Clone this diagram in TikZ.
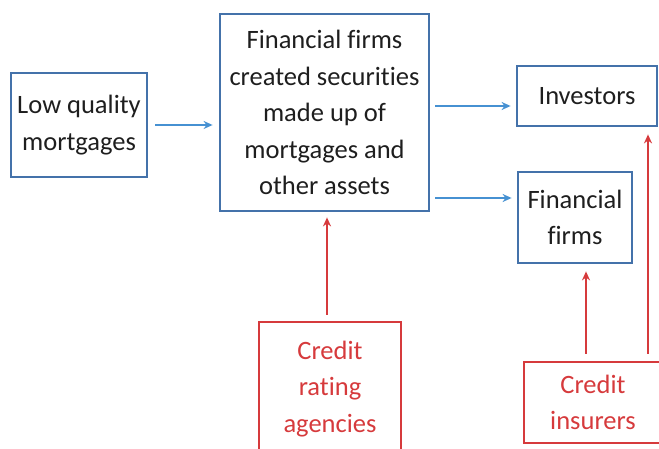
\documentclass[tikz,border=0pt]{standalone}
\usepackage{fontspec}
\setmainfont{Carlito}[RawFeature=-liga]
\usetikzlibrary{arrows.meta}
\definecolor{boxblue}{RGB}{68,114,170}
\definecolor{arrowblue}{RGB}{70,145,210}
\definecolor{crred}{RGB}{214,58,60}
\definecolor{txtgray}{RGB}{30,30,30}
\begin{document}
\begin{tikzpicture}[x=1pt,y=1pt,
	bluebox/.style={draw=boxblue,line width=2.8pt,text=txtgray,align=center,inner sep=0pt,
		font=\fontsize{26.5}{36.5}\selectfont},
	redbox/.style={bluebox,draw=crred,text=crred},
	bluearrow/.style={draw=arrowblue,line width=1.8pt,-{Stealth[length=9pt,width=8pt]}},
	redarrow/.style={bluearrow,draw=crred}]
	\useasboundingbox (0,0) rectangle (659,448);
	\node[bluebox,minimum width=136pt,minimum height=104pt] (low) at (79,323) {Low quality\\mortgages};
	\node[bluebox,minimum width=209pt,minimum height=197pt] (main) at (324.5,335.5)
		{Financial firms\\created securities\\made up of\\mortgages and\\other assets};
	\node[bluebox,minimum width=140pt,minimum height=60pt] (inv) at (587,352) {Investors};
	\node[bluebox,minimum width=114pt,minimum height=91pt] (ff) at (575,230.5) {Financial\\firms};
	\node[redbox,minimum width=142pt,minimum height=134pt] (cra) at (330,59) {Credit\\rating\\agencies};
	\node[redbox,minimum width=138pt,minimum height=81pt] (ci) at (593,45.5) {Credit\\insurers};
	\draw[bluearrow,shorten <=7pt,shorten >=6pt] (low.east) -- (low.east -| main.west);
	\draw[bluearrow,shorten <=5pt,shorten >=5pt] ([yshift=-10pt]inv.west -| main.east) -- ([yshift=-10pt]inv.west);
	\draw[bluearrow,shorten <=5pt,shorten >=5pt] ([yshift=19.5pt]ff.west -| main.east) -- ([yshift=19.5pt]ff.west);
	\draw[redarrow,shorten <=6pt,shorten >=5pt] ([xshift=-3pt]cra.north) -- ([xshift=-3pt]cra.north |- main.south);
	\draw[redarrow,shorten <=7pt,shorten >=7pt] ([xshift=-7pt]ci.north) -- ([xshift=-7pt]ci.north |- ff.south);
	\draw[redarrow,shorten <=7pt,shorten >=7pt] ([xshift=55pt]ci.north) -- ([xshift=55pt]ci.north |- inv.south);
\end{tikzpicture}
\end{document}
